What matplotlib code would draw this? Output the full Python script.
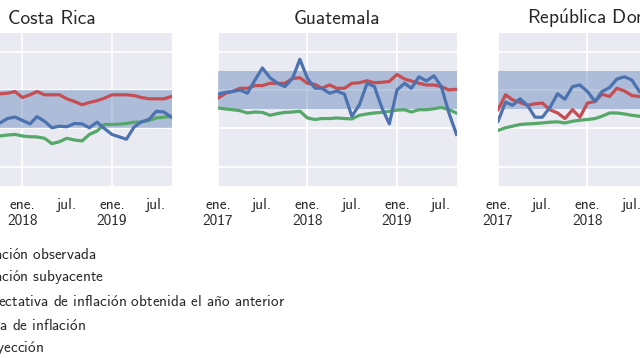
import matplotlib
matplotlib.use("Agg")
import matplotlib.pyplot as plt
import matplotlib.dates as mdates
from matplotlib.lines import Line2D
from matplotlib.patches import Patch
import pandas as pd

plt.rcParams['font.family'] = ['cmss10', 'DejaVu Sans']
plt.rcParams['mathtext.fontset'] = 'cm'
plt.rcParams['axes.formatter.use_mathtext'] = True

# ---------- data (monthly, %) ----------
countries = ["Costa Rica", "Guatemala", "República Dominicana"]
starts = ["2017-10-01", "2017-01-01", "2017-01-01"]
targets = [(2, 4), (3, 5), (3, 5)]

cr_obs = [2.28, 2.51, 2.59, 2.41, 2.23, 2.61, 2.37, 2.03, 2.11, 2.08, 2.25, 2.23,
          2.03, 2.32, 1.99, 1.68, 1.55, 1.43, 2.06, 2.34, 2.46, 2.89, 2.85, 2.58]
cr_core = [3.80, 3.83, 3.92, 3.61, 3.75, 3.92, 3.75, 3.75, 3.75, 3.54, 3.40, 3.23,
           3.35, 3.44, 3.57, 3.75, 3.75, 3.75, 3.71, 3.61, 3.54, 3.54, 3.54, 3.66]
cr_exp = [1.60, 1.65, 1.68, 1.60, 1.56, 1.55, 1.48, 1.20, 1.30, 1.48, 1.39, 1.34,
          1.68, 1.86, 2.20, 2.20, 2.22, 2.25, 2.32, 2.32, 2.41, 2.54, 2.58, 2.63]

gt_obs = [3.78, 3.88, 3.92, 4.00, 3.83, 4.52, 5.15, 4.64, 4.35, 4.18, 4.60, 5.60,
          4.60, 4.09, 4.09, 3.83, 3.95, 3.78, 2.63, 3.23, 4.35, 4.18, 3.06, 2.23,
          4.00, 4.35, 4.09, 4.69, 4.47, 4.74, 4.18, 2.80, 1.68]
gt_core = [3.57, 3.83, 3.92, 4.09, 4.09, 4.23, 4.23, 4.35, 4.35, 4.35, 4.60, 4.64,
           4.35, 4.29, 4.09, 4.26, 4.09, 4.09, 4.35, 4.38, 4.48, 4.38, 4.40, 4.45,
           4.81, 4.57, 4.47, 4.35, 4.26, 4.26, 4.18, 4.00, 4.04]
gt_exp = [3.06, 3.01, 2.97, 2.92, 2.80, 2.85, 2.83, 2.68, 2.77, 2.83, 2.85, 2.89,
          2.54, 2.46, 2.51, 2.51, 2.54, 2.51, 2.49, 2.68, 2.75, 2.80, 2.83, 2.89,
          2.95, 2.97, 2.85, 2.97, 2.97, 3.02, 3.09, 2.97, 2.80]

do_obs = [2.37, 3.37, 3.20, 3.54, 3.20, 2.58, 2.58, 3.09, 3.80, 3.52, 4.18, 4.26,
          3.92, 3.40, 3.92, 4.12, 4.57, 4.69, 4.52, 3.92]
do_core = [2.97, 3.75, 3.49, 3.35, 3.20, 3.28, 3.32, 2.97, 2.80, 2.51, 2.97, 2.58,
           3.32, 3.40, 3.78, 3.66, 4.09, 3.95, 3.71, 3.66]
do_exp = [1.89, 2.03, 2.11, 2.20, 2.23, 2.25, 2.28, 2.32, 2.34, 2.28, 2.37, 2.42,
          2.46, 2.51, 2.63, 2.80, 2.80, 2.75, 2.68, 2.63]

series = [(cr_obs, cr_core, cr_exp), (gt_obs, gt_core, gt_exp), (do_obs, do_core, do_exp)]

labels = ["Inflación observada", "Inflación subyacente",
          "Expectativa de inflación obtenida el año anterior",
          "Meta de inflación", "Proyección"]

BLUE, RED, GREEN = "#4C72B0", "#C44E52", "#55A868"
BG = "#EAEAF2"
TXT = "#262626"


def cm_text(s):
    # cmss10 has no accented letters: build them with mathtext accents
    for ch, rep in [("ó", r"$\mathsf{\acute{o}}$"), ("ú", r"$\mathsf{\acute{u}}$"),
                    ("ñ", r"$\mathsf{\tilde{n}}$")]:
        s = s.replace(ch, rep)
    return s


fig = plt.figure(figsize=(6.4, 3.58), dpi=100)

W, H = 238.5 / 640, 153.3 / 358
bottom = 1 - 185.8 / 358
lefts = [-67 / 640, 218 / 640, 498 / 640]

axes = []
for k, name in enumerate(countries):
    ax = fig.add_axes([lefts[k], bottom, W, H])
    ax.set_facecolor(BG)
    for s in ax.spines.values():
        s.set_visible(False)
    ax.set_axisbelow(True)

    obs, core, exp = series[k]
    dates = pd.date_range(starts[k], periods=len(obs), freq="MS")

    lo, hi = targets[k]
    ax.axhspan(lo, hi, color=BLUE, alpha=0.38, lw=0, zorder=1)
    ax.plot(dates, exp, color=GREEN, lw=2.3, zorder=3)
    ax.plot(dates, core, color=RED, lw=2.3, zorder=3)
    ax.plot(dates, obs, color=BLUE, lw=2.3, zorder=4)

    ax.set_xlim(pd.Timestamp("2017-01-01"), pd.Timestamp("2019-09-01"))
    ax.set_ylim(-1, 7)
    ax.set_yticks([0, 2, 4, 6])
    ax.set_yticklabels([])

    ax.xaxis.set_major_locator(mdates.MonthLocator(bymonth=1))
    ax.xaxis.set_minor_locator(mdates.MonthLocator(bymonth=7))
    ax.xaxis.set_major_formatter(mdates.DateFormatter("ene.\n%Y"))
    ax.xaxis.set_minor_formatter(mdates.DateFormatter("jul."))
    ax.tick_params(axis="both", which="both", length=0, colors=TXT,
                   labelsize=11, pad=8.5)
    ax.grid(True, which="major", color="white", lw=1.3)
    ax.grid(False, which="minor")

    ax.set_title(cm_text(name), fontsize=14, color=TXT, pad=6)
    axes.append(ax)

handles = [Line2D([], [], color=BLUE, lw=2.3),
           Line2D([], [], color=RED, lw=2.3),
           Line2D([], [], color=GREEN, lw=2.3),
           Patch(facecolor=BLUE, alpha=0.38),
           Line2D([], [], color=BLUE, lw=2.3, ls="--")]
axes[0].legend(handles, [cm_text(l) for l in labels], loc="upper left",
               bbox_to_anchor=(-0.035, -0.36),
               frameon=False, fontsize=11, labelspacing=0.37,
               handlelength=2, handletextpad=0.8, borderaxespad=0,
               labelcolor=TXT)

fig.savefig("out.png", dpi=100)
